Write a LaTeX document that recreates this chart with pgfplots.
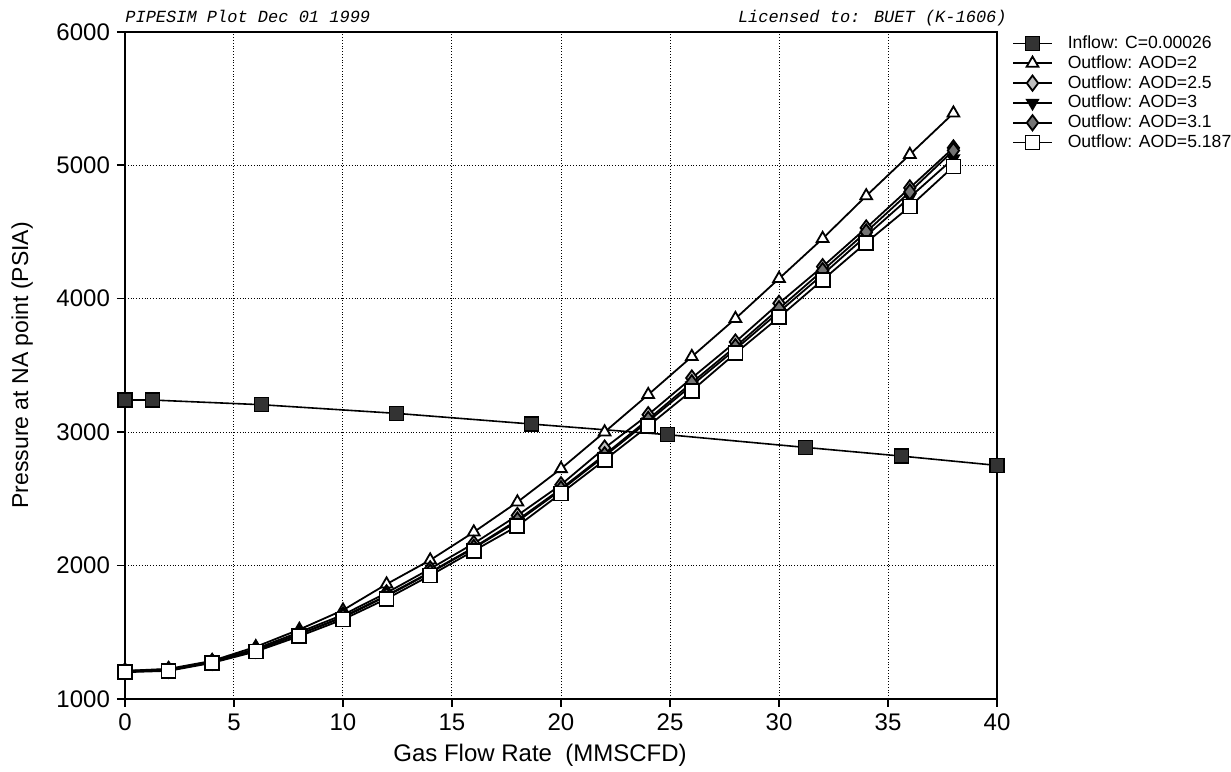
\documentclass[border=0pt]{standalone}
\usepackage{fontspec}
\setmainfont{Liberation Sans}
\newfontfamily\monofont{Liberation Mono}
\usepackage{pgfplots}
\pgfplotsset{compat=1.18}
\usepackage{pgfplotstable}

% outflow curves, x = gas rate (MMSCFD)
\pgfplotstableread{
x   a2    a25   a3    a31   a5
0   1210  1210  1205  1205  1200
2   1225  1220  1215  1215  1210
4   1285  1280  1275  1275  1270
6   1390  1375  1365  1365  1355
8   1520  1500  1485  1485  1470
10  1665  1630  1610  1615  1595
12  1860  1795  1770  1775  1750
14  2040  1975  1945  1950  1925
16  2250  2165  2130  2135  2110
18  2475  2375  2330  2340  2295
20  2725  2605  2565  2575  2540
22  3000  2880  2820  2830  2790
24  3280  3130  3080  3095  3045
26  3565  3405  3350  3370  3310
28  3850  3675  3620  3640  3590
30  4150  3965  3900  3925  3860
32  4450  4240  4180  4210  4140
34  4770  4530  4470  4500  4420
36  5080  4830  4760  4800  4690
38  5390  5130  5050  5110  4990
}\outflow

\pgfplotstableread{
x     p
0     3240
1.25  3240
6.25  3205
12.45 3140
18.65 3060
24.9  2980
31.2  2885
35.6  2820
40    2750
}\inflow

\begin{document}
\begin{tikzpicture}
\begin{axis}[
  name=ax,
  scale only axis,
  width=436pt, height=333.5pt,
  xmin=0, xmax=40, ymin=1000, ymax=6000,
  xtick={0,5,...,40}, ytick={1000,2000,...,6000},
  tick align=outside, xtick pos=left, ytick pos=left,
  major tick length=4pt,
  axis line style={line width=1.2pt},
  major tick style={line width=0.8pt, black},
  grid=major,
  major grid style={black, densely dotted, line width=0.5pt},
  ticklabel style={font=\fontsize{12}{12}\selectfont},
  /pgf/number format/assume math mode=true,
  /pgf/number format/1000 sep={},
  xlabel={Gas Flow Rate\ \ (MMSCFD)},
  ylabel={Pressure at NA point (PSIA)},
  x label style={at={(axis description cs:0.476,-0.084)}, anchor=center,
    font=\fontsize{12}{12}\selectfont},
  y label style={at={(axis description cs:-0.118,0.5)}, anchor=center,
    font=\fontsize{11.5}{12}\selectfont},
  clip=false,
  legend cell align=left,
  legend image code/.code={
    \draw[mark repeat=2,mark phase=2,#1] plot coordinates {(0cm,0cm) (0.34cm,0cm) (0.68cm,0cm)};},
  legend style={at={(1.017,0.995)}, anchor=north west, draw=none, fill=none,
    font=\fontsize{8.8}{9}\selectfont, inner sep=0pt,
    nodes={inner sep=0pt, text height=6.5pt, text depth=1.5pt},
    row sep=1.9pt,
    /tikz/every odd column/.append style={column sep=7.5pt}},
]
\addplot[black, line width=0.8pt, mark=square*, mark size=3.5pt,
  mark options={fill=black!80, line width=0.6pt}] table[x=x,y=p] {\inflow};
\addlegendentry{Inflow: C=0.00026}
\addplot[black, line width=0.9pt, mark=triangle*, mark size=3.4pt,
  mark options={fill=white, line width=0.9pt}] table[x=x,y=a2] {\outflow};
\addlegendentry{Outflow: AOD=2}
\addplot[black, line width=0.9pt, mark=diamond*, mark size=3.8pt,
  mark options={fill=black!25, line width=0.9pt}] table[x=x,y=a25] {\outflow};
\addlegendentry{Outflow: AOD=2.5}
\addplot[black, line width=0.9pt, mark=triangle*, mark size=3.2pt,
  mark options={fill=black, rotate=180}] table[x=x,y=a3] {\outflow};
\addlegendentry{Outflow: AOD=3}
\addplot[black, line width=0.9pt, mark=diamond*, mark size=3.8pt,
  mark options={fill=black!55, line width=0.9pt}] table[x=x,y=a31] {\outflow};
\addlegendentry{Outflow: AOD=3.1}
\addplot[black, line width=0.9pt, mark=square*, mark size=3.5pt,
  mark options={fill=white, line width=0.9pt}] table[x=x,y=a5] {\outflow};
\addlegendentry{Outflow: AOD=5.187}

\node[anchor=base west, inner sep=0pt, font=\monofont\itshape\fontsize{8.5}{9}\selectfont]
  at ([yshift=4.5pt]rel axis cs:0,1) {PIPESIM Plot Dec 01 1999};
\node[anchor=base east, inner sep=0pt, font=\monofont\itshape\fontsize{8.5}{9}\selectfont]
  at ([yshift=4.5pt]rel axis cs:1.0115,1) {Licensed to: BUET (K-1606)};

\coordinate (bl) at (rel axis cs:-0.1433,-0.1094);
\coordinate (tr) at (rel axis cs:1.2683,1.0477);
\end{axis}
\pgfresetboundingbox
\path[use as bounding box] (bl) rectangle (tr);
\end{tikzpicture}
\end{document}
